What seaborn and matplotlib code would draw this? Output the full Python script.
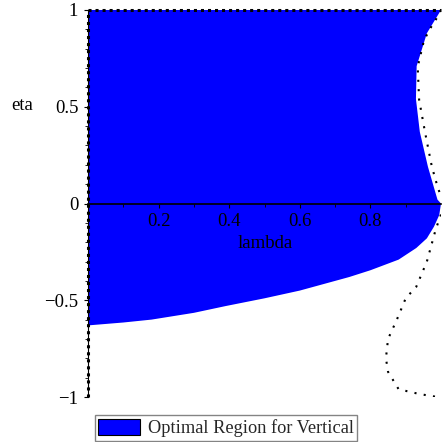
import numpy as np
import pandas as pd
import matplotlib
matplotlib.use("Agg")
import matplotlib.pyplot as plt
import seaborn as sns
from matplotlib.patches import Patch
from matplotlib.ticker import MultipleLocator, FixedLocator

# ---- data ----
# lower boundary of the blue region (lambda, eta)
lower_lam = [0.0, 0.10, 0.18, 0.30, 0.39, 0.50, 0.60, 0.74, 0.80, 0.88, 0.93, 0.96, 0.98, 0.995, 1.0]
lower_eta = [-0.63, -0.615, -0.60, -0.565, -0.53, -0.49, -0.45, -0.38, -0.345, -0.29, -0.23, -0.18, -0.12, -0.06, 0.0]
# right boundary of the blue region, upper half (eta from 1 down to 0)
right_eta = [1.0, 0.88, 0.71, 0.54, 0.37, 0.19, 0.02, 0.0]
right_lam = [1.0, 0.96, 0.931, 0.929, 0.94, 0.963, 0.99, 1.0]
# dotted curve, upper half
dot_up_lam = [1.0, 0.99, 0.972, 0.952, 0.934, 0.938, 0.955, 0.974, 0.99, 1.0]
dot_up_eta = [1.0, 0.964, 0.912, 0.845, 0.706, 0.536, 0.366, 0.191, 0.088, 0.036]
# dotted curve, lower half
dot_lo_lam = [1.0, 0.985, 0.96, 0.93, 0.90, 0.875, 0.85, 0.844, 0.85, 0.88, 0.94, 0.99, 1.0]
dot_lo_eta = [-0.057, -0.134, -0.30, -0.43, -0.49, -0.60, -0.70, -0.80, -0.87, -0.96, -0.985, -1.0, -1.0]
# dotted frame lines
top_lam = [0.0, 1.0]
top_eta = [1.0, 1.0]
left_lam = [0.0, 0.0]
left_eta = [-1.0, 1.0]

x_ticks = [0.2, 0.4, 0.6, 0.8]
y_ticks = [-1, -0.5, 0, 0.5, 1]
y_tick_labels = ["\u22121", "\u22120.5", "0", "0.5", "1"]
legend_label = "Optimal Region for Vertical"

sns.set_theme(style="white")
plt.rcParams["font.family"] = ["Liberation Serif", "DejaVu Serif"]

fig = plt.figure(figsize=(4.42, 4.42), dpi=100)
ax = fig.add_axes([88 / 442, 1 - 397 / 442, 353 / 442, 387 / 442])
ax.set_axisbelow(False)

# blue region polygon
poly_lam = [0.0, 0.0] + right_lam + lower_lam[::-1]
poly_eta = [lower_eta[0], 1.0] + right_eta + lower_eta[::-1]
ax.fill(poly_lam, poly_eta, color="#0000FF", lw=0, zorder=1)

dot_style = dict(color="black", linewidth=1.5, linestyle=(0, (1, 3.5)), sort=False, estimator=None, legend=False)
sns.lineplot(x=dot_up_lam, y=dot_up_eta, ax=ax, zorder=3, **dot_style)
sns.lineplot(x=dot_lo_lam, y=dot_lo_eta, ax=ax, zorder=3, **dot_style)
fine = dict(color="black", linewidth=2.2, linestyle=(0, (1, 1.3)), sort=False, estimator=None, legend=False)
sns.lineplot(x=top_lam, y=top_eta, ax=ax, zorder=3, clip_on=False, **fine)
sns.lineplot(x=left_lam, y=left_eta, ax=ax, zorder=3, clip_on=False, **fine)

ax.set_xlim(0, 1)
ax.set_ylim(-1, 1)

for s in ["top", "right"]:
    ax.spines[s].set_visible(False)
ax.spines["bottom"].set_position(("data", 0))
ax.spines["left"].set_position(("data", 0))
ax.spines["bottom"].set_color("black")
ax.spines["left"].set_color("black")
ax.spines["bottom"].set_linewidth(1.2)
ax.spines["left"].set_linewidth(0.8)

ax.xaxis.set_major_locator(FixedLocator(x_ticks))
ax.xaxis.set_minor_locator(FixedLocator([0.1, 0.3, 0.5, 0.7, 0.9]))
ax.set_xticklabels([f"{v:.1f}" for v in x_ticks])
ax.yaxis.set_major_locator(FixedLocator(y_ticks))
ax.yaxis.set_minor_locator(MultipleLocator(0.1))
ax.set_yticklabels(y_tick_labels)

ax.tick_params(axis="both", which="major", direction="out", length=3, width=0.8,
               color="black", labelsize=13.5, labelcolor="black",
               bottom=True, left=True)
ax.tick_params(axis="both", which="minor", direction="out", length=2, width=0.6,
               color="black", bottom=True, left=True)
ax.tick_params(axis="x", which="major", pad=4)
ax.tick_params(axis="y", which="major", pad=4)

ax.set_xlabel("lambda", fontsize=13.5, color="black")
ax.xaxis.set_label_coords((265 - 88) / 353, (397 - 243) / 387)
ax.xaxis.label.set_va("center")
ax.set_ylabel("eta", fontsize=13.5, color="black", rotation=0, va="center", ha="center")
ax.yaxis.set_label_coords((22 - 88) / 353, (397 - 105) / 387)
ax.grid(False)

handle = Patch(facecolor="#0000FF", edgecolor="black", linewidth=0.8)
leg = fig.legend([handle], [legend_label], loc="center", bbox_to_anchor=(226 / 442, 1 - 428 / 442),
                 frameon=True, fancybox=False, fontsize=13.2, handlelength=2.3, handleheight=1.0,
                 handletextpad=0.4, borderpad=0.2, borderaxespad=0)
leg.get_frame().set_edgecolor("#666666")
leg.get_frame().set_linewidth(1.0)

fig.savefig("out.png", dpi=100)
